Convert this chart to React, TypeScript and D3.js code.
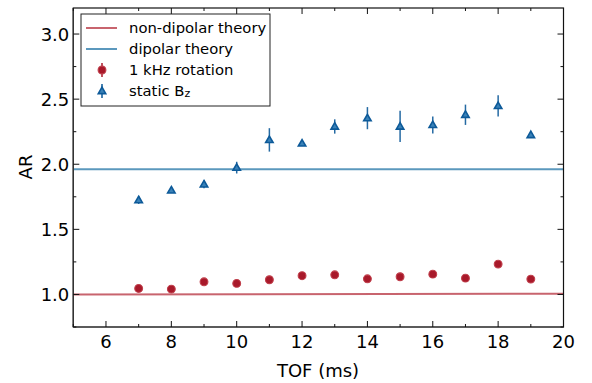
import React from "react";
import * as d3 from "d3";

const tof = [7, 8, 9, 10, 11, 12, 13, 14, 15, 16, 17, 18, 19];
const rotationAR = [1.046, 1.041, 1.097, 1.085, 1.113, 1.144, 1.151, 1.12, 1.136, 1.156, 1.125, 1.233, 1.118];
const rotationErr = [0.008, 0.008, 0.01, 0.01, 0.01, 0.01, 0.012, 0.01, 0.01, 0.025, 0.01, 0.012, 0.01];
const staticAR = [1.725, 1.8, 1.846, 1.974, 2.187, 2.16, 2.29, 2.354, 2.29, 2.302, 2.38, 2.448, 2.225];
const staticErr = [0.03, 0.02, 0.03, 0.045, 0.09, 0.02, 0.055, 0.085, 0.12, 0.065, 0.078, 0.082, 0.02];
const theoryX = [5, 20];
const nonDipolarTheory = [1.0, 1.005];
const dipolarTheory = [1.962, 1.962];
const xTicks = [6, 8, 10, 12, 14, 16, 18, 20];
const yTicks = [1.0, 1.5, 2.0, 2.5, 3.0];
const legendLabels = ["non-dipolar theory", "dipolar theory", "1 kHz rotation", "static B"];

const W = 592, H = 383;
const L = 73.3, R = 563.5, T = 8, B = 327;
const RED = "#a8192a";
const RED_EDGE = "#c0404c";
const BLUE = "#0d5a99";
const BLUE_FILL = "#3a82b8";
const RED_LINE = "#c8646e";
const BLUE_LINE = "#5b98bd";
const FONT = "DejaVu Sans, sans-serif";
const TICK_FS = 18;

export default function App() {
  const x = d3.scaleLinear().domain([5, 20]).range([L, R]);
  const y = d3.scaleLinear().domain([0.75, 3.2]).range([B, T]);
  const line = d3.line<number>().x((_, i) => x(theoryX[i])).y((d) => y(d));
  const xMinor = d3.range(5, 21, 1);
  const yMinor = d3.range(0.75, 3.21, 0.25);
  const tri = d3.symbol().type(d3.symbolTriangle).size(24)() as string;

  return (
    <svg width={W} height={H} style={{ position: "absolute", left: 0, top: 0 }} fontFamily={FONT}>
      <rect width={W} height={H} fill="white" />
      <path d={line(nonDipolarTheory) || ""} stroke={RED_LINE} strokeWidth={2} fill="none" />
      <path d={line(dipolarTheory) || ""} stroke={BLUE_LINE} strokeWidth={2} fill="none" />
      {tof.map((t, i) => (
        <g key={"r" + i}>
          <line x1={x(t)} x2={x(t)} y1={y(rotationAR[i] - rotationErr[i])} y2={y(rotationAR[i] + rotationErr[i])} stroke={RED} strokeWidth={1.5} />
          <circle cx={x(t)} cy={y(rotationAR[i])} r={3.9} fill={RED} stroke={RED_EDGE} strokeWidth={1.1} />
        </g>
      ))}
      {tof.map((t, i) => (
        <g key={"s" + i}>
          <line x1={x(t)} x2={x(t)} y1={y(staticAR[i] - staticErr[i])} y2={y(staticAR[i] + staticErr[i])} stroke={BLUE} strokeWidth={1.5} strokeOpacity={0.9} />
          <path d={tri} transform={`translate(${x(t)},${y(staticAR[i]) + 0.5})`} fill={BLUE_FILL} stroke={BLUE} strokeWidth={1.6} />
        </g>
      ))}
      <rect x={L} y={T} width={R - L} height={B - T} fill="none" stroke="#111" strokeWidth={1.2} />
      <line x1={L} x2={L} y1={T} y2={B} stroke="#333" strokeWidth={1.4} />
      <line x1={L} x2={R} y1={B} y2={B} stroke="#555" strokeWidth={1.6} />
      {xMinor.map((v) => {
        const major = v % 2 === 0;
        const len = major ? 6 : 3;
        return (
          <g key={"xt" + v} stroke="#111" strokeWidth={1}>
            <line x1={x(v)} x2={x(v)} y1={B} y2={B - len} />
            <line x1={x(v)} x2={x(v)} y1={T} y2={T + len} />
          </g>
        );
      })}
      {yMinor.map((v) => {
        const major = Math.abs(v * 2 - Math.round(v * 2)) < 1e-6;
        const len = major ? 6 : 3;
        return (
          <g key={"yt" + v} stroke="#111" strokeWidth={1}>
            <line x1={L} x2={L + len} y1={y(v)} y2={y(v)} />
            <line x1={R} x2={R - len} y1={y(v)} y2={y(v)} />
          </g>
        );
      })}
      {xTicks.map((v) => (
        <text key={"xl" + v} x={x(v)} y={B + 21} fontSize={TICK_FS} textAnchor="middle" fill="#000">{v}</text>
      ))}
      {yTicks.map((v) => (
        <text key={"yl" + v} x={L - 4} y={y(v) + 6.6} fontSize={TICK_FS} textAnchor="end" fill="#000">{v.toFixed(1)}</text>
      ))}
      <text x={318} y={377} fontSize={TICK_FS} textAnchor="middle" fill="#000">TOF (ms)</text>
      <text transform={`translate(32,167) rotate(-90)`} fontSize={TICK_FS} textAnchor="middle" fill="#000">AR</text>
      <rect x={81} y={14} width={189} height={92} fill="white" stroke="#222" strokeWidth={1} />
      <line x1={86} x2={117} y1={28} y2={28} stroke={RED_LINE} strokeWidth={2} />
      <line x1={86} x2={117} y1={49} y2={49} stroke={BLUE_LINE} strokeWidth={2} />
      <line x1={102} x2={102} y1={63} y2={77} stroke={RED} strokeWidth={1.5} />
      <circle cx={102} cy={70} r={3.9} fill={RED} stroke={RED_EDGE} strokeWidth={1.1} />
      <line x1={102} x2={102} y1={84} y2={98} stroke={BLUE} strokeWidth={1.5} />
      <path d={tri} transform="translate(102,91.5)" fill={BLUE_FILL} stroke={BLUE} strokeWidth={1.6} />
      <text x={129} y={33} fontSize={14.8} fill="#000">{legendLabels[0]}</text>
      <text x={129} y={54} fontSize={14.8} fill="#000">{legendLabels[1]}</text>
      <text x={129} y={75} fontSize={14.8} fill="#000">{legendLabels[2]}</text>
      <text x={129} y={96} fontSize={14.8} fill="#000">{legendLabels[3]}<tspan fontSize={11} dy={1}>z</tspan></text>
    </svg>
  );
}
